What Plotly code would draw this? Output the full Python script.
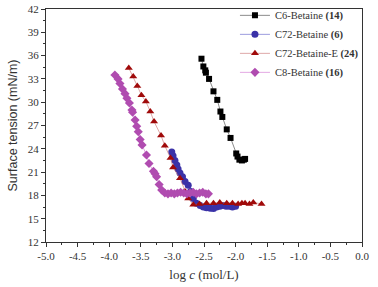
import plotly.graph_objects as go

# ---- data ----
c6_x = [-2.54, -2.51, -2.48, -2.47, -2.42, -2.35, -2.29, -2.24, -2.21, -2.14, -2.08, -1.99, -1.97, -1.94, -1.90, -1.87, -1.85]
c6_y = [35.6, 34.6, 34.1, 33.8, 33.0, 31.4, 30.3, 28.8, 28.1, 26.5, 25.4, 23.4, 23.0, 22.6, 22.5, 22.6, 22.7]

c72_x = [-3.01, -2.99, -2.96, -2.93, -2.91, -2.88, -2.84, -2.80, -2.75, -2.71, -2.67, -2.62, -2.56, -2.51,
         -2.46, -2.40, -2.35, -2.30, -2.25, -2.20, -2.15, -2.10, -2.05, -2.00]
c72_y = [23.6, 23.1, 22.5, 21.9, 21.4, 20.9, 20.4, 19.8, 19.3, 18.5, 17.6, 17.0, 16.7, 16.5,
         16.4, 16.35, 16.3, 16.5, 16.6, 16.7, 16.6, 16.6, 16.5, 16.6]

c72e_x = [-3.69, -3.62, -3.555, -3.49, -3.42, -3.35, -3.29, -3.18, -3.12, -3.03, -2.99, -2.88, -2.80, -2.75,
          -2.67, -2.57, -2.46, -2.35, -2.25, -2.14, -2.05, -1.96, -1.90, -1.85, -1.78, -1.72, -1.59]
c72e_y = [34.4, 33.3, 32.1, 30.9, 30.1, 28.8, 27.5, 25.7, 24.4, 22.8, 21.6, 20.2, 18.5, 17.6,
          16.8, 16.9, 17.0, 17.0, 17.1, 17.0, 17.0, 16.9, 17.0, 17.0, 16.9, 17.1, 16.9]

c8_x = [-3.91, -3.86, -3.83, -3.79, -3.75, -3.72, -3.68, -3.64, -3.63, -3.59, -3.565, -3.54, -3.51, -3.48,
        -3.41, -3.37, -3.30, -3.275, -3.25, -3.21, -3.17, -3.12,
        -3.07, -3.02, -2.97, -2.92, -2.87, -2.82, -2.77, -2.72, -2.67, -2.62, -2.57, -2.52, -2.47, -2.43]
c8_y = [33.5, 33.0, 32.4, 31.7, 31.1, 30.5, 29.9, 29.0, 28.7, 27.7, 26.9, 26.2, 25.2, 24.5,
        23.2, 22.1, 21.1, 20.8, 20.4, 19.4, 18.7, 18.3,
        18.2, 18.3, 18.2, 18.3, 18.4, 18.3, 18.2, 18.3, 18.4, 18.2, 18.3, 18.4, 18.2, 18.2]

x_ticks = [-5.0, -4.5, -4.0, -3.5, -3.0, -2.5, -2.0, -1.5, -1.0, -0.5, 0.0]
x_labels = ["-5.0", "-4.5", "-4.0", "-3.5", "-3.0", "-2.5", "-2.0", "-1.5", "-1.0", "-0.5", "0.0"]
y_ticks = [12, 15, 18, 21, 24, 27, 30, 33, 36, 39, 42]

series = [
    ("C6-Betaine <b>(14)</b>", c6_x, c6_y, "square", "#000000", "rgba(90,90,90,0.7)", 6),
    ("C72-Betaine <b>(6)</b>", c72_x, c72_y, "circle", "#3a32a8", "rgba(90,90,200,0.6)", 7),
    ("C72-Betaine-E <b>(24)</b>", c72e_x, c72e_y, "triangle-up", "#a00a0a", "rgba(200,110,110,0.6)", 7),
    ("C8-Betaine <b>(16)</b>", c8_x, c8_y, "diamond", "#b04cb0", "rgba(215,130,215,0.7)", 7),
]

fig = go.Figure()
for name, xs, ys, sym, col, lcol, sz in series:
    fig.add_trace(go.Scatter(
        x=xs, y=ys, mode="lines+markers", name=name,
        line=dict(color=lcol, width=1),
        marker=dict(symbol=sym, color=col, size=sz, line=dict(width=0)),
    ))

axis_common = dict(
    showline=True, linecolor="#333333", linewidth=1, mirror=True,
    ticks="outside", ticklen=4, tickcolor="#333333", tickwidth=1,
    showgrid=False, zeroline=False,
    tickfont=dict(family="Liberation Serif", size=11, color="#333333"),
)

fig.update_layout(
    width=378, height=287,
    margin=dict(l=46, r=16, t=9, b=45, autoexpand=False),
    paper_bgcolor="white", plot_bgcolor="white",
    showlegend=True,
    legend=dict(
        x=0.598, y=1.035, xanchor="left", yanchor="top",
        bgcolor="rgba(0,0,0,0)", borderwidth=0,
        font=dict(family="Liberation Serif", size=10.5, color="#333333"),
        tracegroupgap=0,
    ),
    xaxis=dict(
        range=[-5, 0], tickvals=x_ticks, ticktext=x_labels,
        minor=dict(ticks="outside", ticklen=2, dtick=0.25, tickcolor="#333333"),
        title=dict(text="log <i>c</i> (mol/L)", standoff=8,
                   font=dict(family="Liberation Serif", size=13, color="#333333")),
        **axis_common,
    ),
    yaxis=dict(
        range=[12, 42], tickvals=y_ticks,
        minor=dict(ticks="outside", ticklen=2, dtick=1.5, tickcolor="#333333"),
        title=dict(text="Surface tension (mN/m)", standoff=7,
                   font=dict(family="Liberation Sans", size=12.5, color="#333333")),
        **axis_common,
    ),
)

fig.write_html(
    "out.html",
    config={"displayModeBar": False},
    post_script="document.body.style.margin='0';document.body.style.padding='0';",
)
